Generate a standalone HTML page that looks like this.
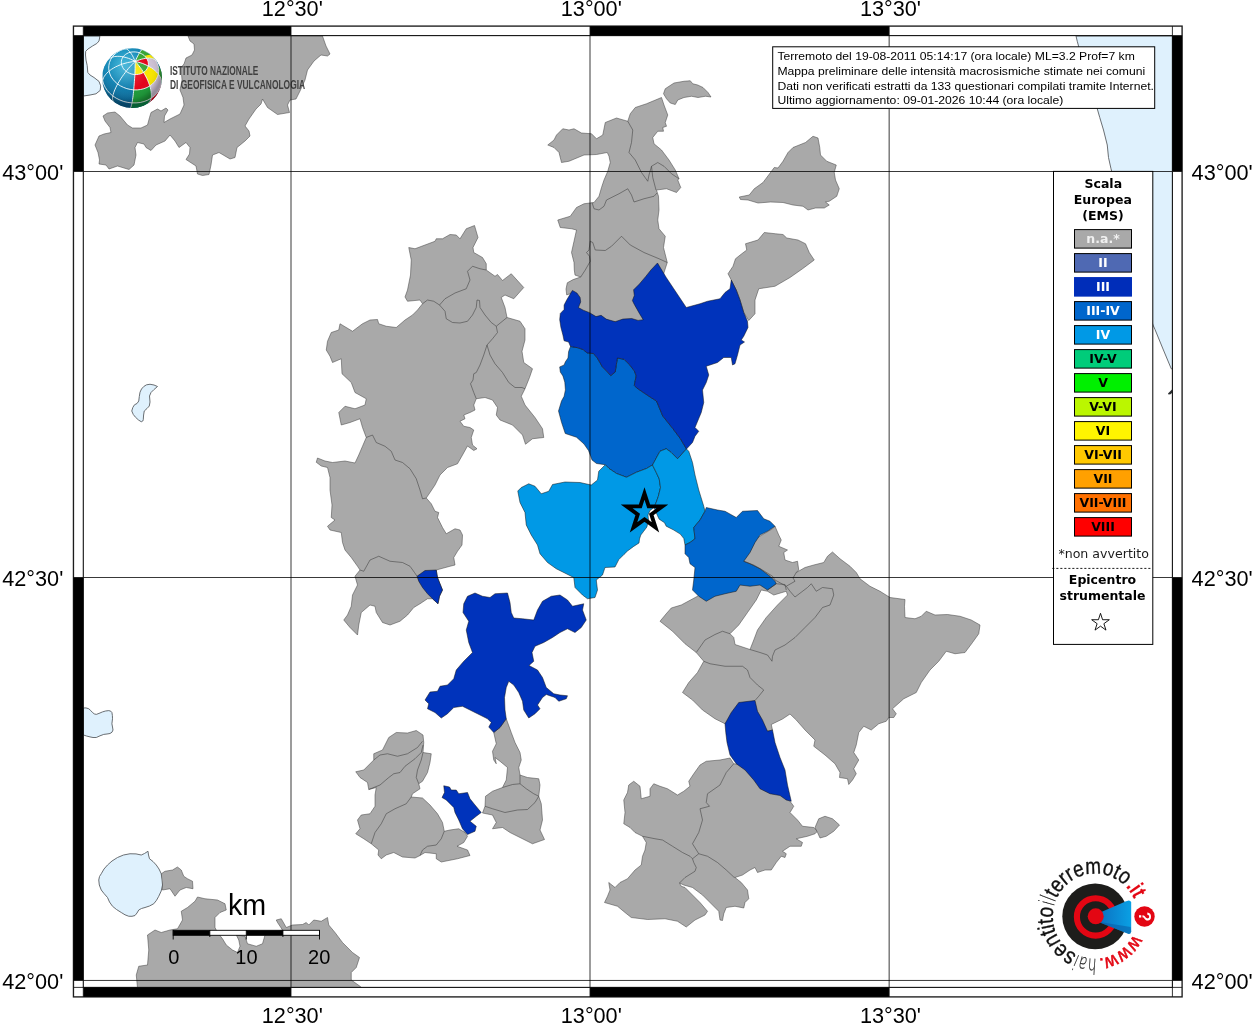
<!DOCTYPE html>
<html lang="it"><head><meta charset="utf-8"><title>Mappa intensità macrosismiche</title>
<style>html,body{margin:0;padding:0;background:#fff}svg{display:block}text{font-family:"Liberation Sans",sans-serif}.dj{font-family:"DejaVu Sans","Liberation Sans",sans-serif}.ga{filter:grayscale(1)}.gb{filter:saturate(1)}</style></head><body>
<svg width="1255" height="1024" viewBox="0 0 1255 1024">
<defs>
<clipPath id="mapclip"><rect x="83.3" y="35.6" width="1089.1000000000001" height="951.8"/></clipPath>
<clipPath id="globeclip"><circle cx="0" cy="0" r="30"/></clipPath>
<radialGradient id="gblue" cx="-8" cy="-14" r="46" gradientUnits="userSpaceOnUse"><stop offset="0" stop-color="#2fb0d6"/><stop offset="0.45" stop-color="#1585b4"/><stop offset="1" stop-color="#075583"/></radialGradient>
<radialGradient id="gshade" cx="-4" cy="-8" r="34" gradientUnits="userSpaceOnUse"><stop offset="0" stop-color="#fff" stop-opacity="0.18"/><stop offset="0.6" stop-color="#fff" stop-opacity="0"/><stop offset="0.85" stop-color="#000" stop-opacity="0.06"/><stop offset="1" stop-color="#000" stop-opacity="0.28"/></radialGradient>
<linearGradient id="cone" x1="0" y1="0" x2="1" y2="0"><stop offset="0" stop-color="#0b6cbd"/><stop offset="1" stop-color="#0aa0e4"/></linearGradient>
</defs>
<rect width="1255" height="1024" fill="#fff"/>
<g clip-path="url(#mapclip)">
<g fill="#dff1fd" stroke="#5a5f63" stroke-width="0.9" stroke-linejoin="round">
<polygon points="83.5,36 99.8,36 99.6,38 99,41 96.8,43.5 92.5,46 88,49 85.7,51.3 85.5,55 86,60 87.2,65.5 87.8,72.5 90,75 94,77.5 99,81.4 100.7,85.9 100.2,90.4 96,93.8 90,95 83.5,96"/>
<polygon points="157.5,386.5 154,385 150,384.25 146.5,384.8 143.75,386.5 141.5,389 140,392.25 139.3,396.5 138.75,401 137,403.5 134.5,404.75 132.8,407.5 131.75,411 133.3,414.5 135.5,417.25 138.5,420 141.25,421.75 142.8,421 143.25,419.75 143.6,415 144.25,411 147,408.5 149.3,406 150,402 149.5,396 151,392.5 153.75,389.75"/>
<polygon points="83.5,708 86,707.9 88.75,708.75 90.7,710.5 92.5,712.5 94.3,713.9 96.25,714.4 99,713.4 102.5,711.9 105.5,711 108.75,710.6 110.8,711.2 111.9,712.5 112.4,715.5 112.5,718.75 111.9,723.75 112.5,727 113,730 112,732.2 110,733.5 107,734 103.75,734.4 100,735.8 96.25,737.5 93,737.5 90,736.9 86.5,736 83.5,735"/>
<polygon points="98.75,880 99.5,876.5 101.25,873.75 104,869 107.5,865 112,861 117.5,857.5 123.5,855 130,853.75 136,853.9 141.25,855 144.5,853.5 148,851.25 148.5,855 149.5,858.75 153,861.5 156.25,865 159,869 161.25,873.75 162.4,879 162.5,885 161.2,891 158.75,896.25 156.5,900.3 153.75,903.75 149.5,906 145,907.5 141.5,908.5 138.75,910 137,913 135,915.5 132,916.3 128.75,916.25 125,914.8 121.25,912.5 116.5,909.5 112.5,906.25 109.5,902 107.5,897.5 104,893.5 101.25,890 99.3,885"/>
<polygon points="1076,36 1077.25,41.25 1085,70 1097.25,108.75 1099.75,117.5 1103.5,130 1107.25,145 1108.5,157.5 1111,168.75 1120,202 1135,264 1153,325 1155,329.5 1163,349 1171.25,368.75 1173,369 1173,36"/>
</g>
<g fill="#a9a9a9" stroke="#3c3c3c" stroke-width="0.5" stroke-linejoin="round">
<polygon points="188,36 190,41 194,44 194.5,50 192,55 186,58 184,64 181,67.5 182,80 180,90 183,97.5 184,105 180,114 170,119 164,122.5 164.5,116 168,110 166,108 161,111 157.5,109 151,112.5 149.5,117.5 147.5,125 141,128 132.5,128 127.5,125 120,116 115,112 107.5,113 103,116 105,121 110,127.5 111,132.5 104,134 99,136 95,145 98,152.5 99.5,160 99,164 106,165 109,169 117.5,166 129,169.5 134,165 136,155 135,147.5 137.5,142.5 144,144 146,147.5 151,150.5 156,145 165,141 170,135 175,141 179,147.5 186,142.5 190,147.5 189.5,154 186,159.5 196,166 197.5,174 202.5,175.5 209,174.5 211,165 212.5,155 219,152.5 230,159 235,157.5 237,147.5 245,141 250,136 249,131 245,126 249,119 256,109 261,104 262.5,99 267.5,107.5 277.5,114.5 289.5,112.5 287.5,105 290,100 296,99 300,91 305,80 307.5,70 314,61 321,55 327.5,56 330,54 326,46 323,37.5 322.5,36"/>
<polygon points="547.75,145 554,140 556.5,135 562.75,128.75 569,130 574,128.75 581.5,133 591.5,133.75 596.5,138.75 602.75,135 605.25,122.5 616.5,118 627.75,121.25 630.25,113.75 635.25,107.5 646.5,103.75 661.5,97.5 664,105 667.75,115 665.25,122.5 666.5,126.25 662.75,127.5 663.5,131.25 657.75,131.25 652.75,137.5 654,143.75 661.5,150 669,160 675.25,170 679,178.75 677.75,180 680.75,187.5 676.5,192.5 666.5,188.75 656.5,190 658.5,196.25 659,210 657.75,220 659,228.75 665.25,236.25 663.5,247.5 667.25,262.5 660,285 645,322 600,322 580,312 573,300 571.25,292.5 570.5,293.6 566.7,294.9 566,289.1 567.3,282.8 573.1,279.6 580.7,277 575,275.1 574.3,270 574,262.5 571.5,252.5 574,241.25 576.5,230 571.5,228.75 560.25,227.5 557.75,220 570.25,216.25 576.5,207.5 584,203.75 594,202.5 599,196.25 601.5,187.5 604,180 607.75,171.25 610.25,162.5 609,156.25 607.25,152.5 596.5,154.5 584,155 569,161.25 561.5,162.5 559,152.5 554,147.5"/>
<polygon points="663.5,93.75 665.25,88.75 674,83 684,81.25 690.25,80.75 692.75,83.75 697.75,85 703,87.5 708,92.5 711,97 705.5,96.25 698,97.5 691.5,96.25 684,97.5 677.75,100 675.25,104.5 670.25,103 666.5,98.75"/>
<polygon points="739.25,197 749.25,195 754.25,188.75 763,182.5 770.5,172.5 774.25,167.5 778,168 783,161.25 788,152.5 793,147.5 805.5,142.5 813,136.25 818,138 819.75,147.5 820.5,155 826.75,161.25 836.25,165 834.25,172.5 835.5,180 839.25,188.75 836.75,196.25 829.25,201.25 825.5,202 829.25,205 824.25,208 815.5,208 808,210 803,206.25 793,205 783,202.5 770.5,202 758,203 748,200 740.5,199.5"/>
<polygon points="764.25,232.5 775.5,233.75 783,234.5 786.75,238 798,240 805.5,243.75 809.25,252.5 814.25,260 802.5,268.75 790,277.5 775,286.25 758.75,288.75 755,300 755,313.75 748.75,320.5 743.75,312.5 740,300 736.25,290 731.25,280 728,273.75 733,266.25 735.5,258.75 741.75,253.75 746.75,250 745.5,243.75 758,240"/>
<polygon points="408.75,247.5 415,248.75 435,241.25 436.25,238.75 442.5,238.75 450,234.5 456.25,235 460,238.75 466.25,228.75 474.5,225.5 478,237.5 473,247.5 473.75,252.5 482.5,257.5 486.25,263.75 486.25,270 495,276.25 497.5,274.5 502.5,280.5 511.25,273.75 523.75,287.5 513.75,298.75 505,295 501.25,297.5 505,307.5 507,317.5 520,321.25 525,328.75 525,340 522,351.25 523.75,362.5 532.5,368.75 529.5,377.5 525,388.75 521.25,396.25 525,405 535,417.5 542.5,428.75 543.75,437.5 532.5,438.75 525.5,444.25 522.5,435 512.5,425 500,420 496.25,415 497.5,407.5 492.5,400 485,397.5 476.25,398.75 473.75,405 475,410 470,412.5 463.75,415 465,418.75 460,421.25 463.75,426.25 470,427.5 473.75,430 471.25,437.5 472.5,445 477,448.75 473.75,450.5 467.5,446 462.5,455 457.5,463.75 447.5,467.5 440,475 435,485 430,492.5 426.25,498 431.25,503.75 435,511.25 438.75,512.5 437.5,517.5 442.5,527.5 446.25,533.75 455,528.75 460,530 462.5,535 462,545 457.5,551.25 453.75,557.5 455,565 450,566.25 436.25,570 437.5,577.5 440,583.75 442.5,590 439.5,596.25 438,603.75 432.5,598.75 427.5,598.75 420,603.75 413.75,607.5 407.5,615 400,621.25 390,625 382.5,622.5 376.25,612.5 375,606.25 370,605 361.25,612.5 358.75,625 357.5,635 350,627.5 343.75,620 347.5,615 351.25,606.25 352.5,595 357.5,585 355,576.25 360,570 357.5,566.25 351.25,557.5 345,550 342.5,542.5 341.25,532.5 330,530 327.5,526.25 335,520 331.25,517.5 332,505 330,490 330,477.5 327.5,467.5 321.25,466 316.25,462.25 317.5,458 325,461 332.5,462.5 345,461 355,463 358.75,455 362.5,446.25 366.25,437.5 362.5,427.5 360,418.75 350,422.5 341.25,425 338.75,412.5 345,406.25 355,408.75 365,405 366.25,398.75 355,392.5 351.25,382.5 342,373.75 341.25,358.75 332.5,362.5 330,356.25 326.25,350 327.5,341.25 331.25,332.5 338.75,330 340,323.75 352.5,331.25 362.5,323.75 370,320 377.5,319.5 378.75,323.75 386.25,326.25 396.25,327.5 405,320 412.5,315 417.5,310 422.5,303.75 420,300 407.5,301.25 405,297 407.5,290 410.5,275 411.25,260"/>
<polygon points="355.75,771.75 363.75,770 373.75,760 373.75,753.75 382.5,750 388.75,737.5 396.25,732.5 407.5,733 416.25,730.5 423,735 423.75,742.5 423,752.5 431.25,753.75 430,762.5 427.5,772.5 422.5,781.25 418.75,783.75 420,788.75 412.5,793.75 411.25,797 422.5,798 430,805 437.5,813.75 442.5,822.5 444.25,831.25 450,830 458.75,828.75 465,832.5 467.5,836.25 463.75,842.5 457,846.25 467.5,850 470,855.5 457.5,858.75 441.25,862 436.25,858.75 436.25,853.75 425,852.5 420,855.5 415,858 402.5,857 393.75,852.5 386.25,855 381.25,858.75 378,855 378.75,850 371.25,843.75 363.75,838.75 355.75,833.75 360,828.75 357.5,820 361.25,815 370,813.75 375,806.25 375,795 376.25,787.5 368.75,789.5 367.5,782.5 360,777.5"/>
<polygon points="506.25,718.75 511.25,732.5 515,742.5 520,752.5 521.25,760 518.75,767.5 520,775 527.5,777.5 538.75,778.75 540,785 538.75,796.25 541.25,803.75 542.5,820 540,830 544.5,839.5 532.5,843.75 520,837.5 510,832.5 502.5,827.5 492.5,828.75 496.25,822.5 492.5,815 482.5,813 485,806.25 485.5,796.25 492.5,791.25 502.5,787.5 506.25,780 507.5,767.5 500,761.25 495,757.5 496.25,763.75 493.75,760 492.5,751.25 496.25,743.75 493.75,732.5 500,727.5"/>
<polygon points="772.5,528.75 775,526.25 778.75,535 781.25,540 778.75,546.25 787.5,550 783.75,552.5 785,560 792.5,562.5 797.5,561.25 798.75,570 796.25,572.5 805,567.5 813.75,565 823.75,562.5 827.5,556.25 832.5,552 840,558.75 850,566.25 856.25,572.5 860,578.75 870,586.25 880,591.25 890,597.5 905,599.5 904.5,606.25 905,617.5 915,618.75 921.25,616.25 926.25,611.25 935,615 947.5,614.5 960,616.25 971.25,620 980,625 978.75,633.75 972.5,642.5 965,652.5 955,653.75 946.25,651.25 938.75,661.25 930,670 921.25,682.5 916.25,692.5 903.75,698.75 892.5,708.75 896.25,713.75 893.75,717.5 888.75,717.5 886.25,721.25 878.75,723.75 871.25,730 863.75,726.25 858.75,732.5 856.25,745 853.75,752.5 858.75,760 853.75,768.75 856.25,773.75 852.5,780 848.75,784.5 847.5,778.75 839.5,777.5 840,772.5 835,763.75 825,755 813.75,746.25 815,740 805,730 796.25,720 790,714 782.5,719 771.25,724.5 772.5,730 767.5,731.25 755,715 740,712 725,723.75 715,718.75 702.5,710 692.5,700 682.5,692.5 688.75,682.5 697.5,672.5 703.75,661.25 696.25,652.5 685,643.75 672.5,631.25 660,621.25 666,614 671.25,608 681.25,605 697.5,596.25 720,580 745,545"/>
<polygon points="733.75,763.75 730,758 720,760 706.25,761.25 700,765 693.75,773.75 688.75,781.25 690,786.25 683.75,791.25 677.5,795 667.5,788.75 660,786.25 653.75,783.75 650,788.75 650,796.25 641.25,798.75 640,786.25 633.75,781.25 628.75,785 627.5,792.5 623.75,800 625,812.5 623.75,823.75 630,827.5 635,832.5 642.5,836.25 646.25,842.5 645,850 642.5,856.25 641.25,865 635,870 627.5,878.75 620,882.5 615,887.5 608.75,882.5 610,890 607.5,896.25 604.5,902.5 617.5,906.25 625,912.5 631.25,917.5 647.5,919.5 665,918.75 677.5,921.25 686.25,927 695,920 705,915 707.5,911.25 700,902.5 690,892.5 685,887.5 681.25,886.25 679.5,883 683.75,885 692.5,887.5 702.5,895 712.5,905 718.75,911.25 720,920 722.5,920.5 723.75,913.75 726.25,907.5 735,906.25 743.75,908 745,902.5 748.75,898.75 747.5,890 741.25,882.5 735,877.5 742.5,875 750,870 755,867.5 757.5,872.5 765,870 771.25,870 776.25,862.5 781.25,856.25 785,857.5 786.25,853.75 782.5,851.25 790,846.25 801.25,846.25 802.5,842.5 796.25,838.75 807.5,836.25 815,833.75 817.5,831.25 813.75,827.5 802.5,826.25 797.5,820 790,812.5 793.75,806.25 790,801.25 780,790 760,780 745,765"/>
<polygon points="815,827.5 818.75,818.75 825,816.25 832.5,818.75 839.5,825 833.75,831.25 826.25,836.25 820,838 817.5,832.5"/>
<polygon points="161.25,873.75 165,871.25 172.5,870 177.5,867 181.25,870 183.75,876.25 187.5,878.75 192.5,881.25 193,888.75 186.25,887.5 180,890 175,896.25 170,888.75 162.5,890 162.5,885"/>
<polygon points="137.5,988 136.25,975 138.75,966.25 147.5,965 148.75,950 147.5,935 155,930 161.25,932.5 170,930 177.5,928.75 182.5,920 181.25,911.25 187.5,907.5 195,901.25 197.5,897 205,898.75 217.5,900 225,903.75 226.25,910 220,912.5 215,917.5 215,927.5 217.5,932.5 222.5,938.75 226.25,945 232.5,950 237.5,952.5 240,946.25 238.75,940 236.25,935 245,936.25 247.5,943.75 256.25,946.25 262.5,943.75 265,935 270,932.5 282.5,930 277.5,922.5 276.25,920 281.25,918.75 286.25,927.5 292.5,925 302.5,924.5 306.25,922.5 308.75,925 313.75,920 321.25,921.25 327.5,917.5 328.75,925 335,932.5 342.5,942.5 352.5,952.5 359.5,957.5 356.25,967.5 351.25,972.5 351.25,980 360,986.25 362,988"/>
</g>
<polygon points="1172,389.5 1170,391.5 1168,393.5 1168.5,394.5 1170.5,394.2 1172,393" fill="#2a2d30"/>
<polygon points="761.25,590 767.5,591.25 773.75,595 786.25,591.25 787.5,595 777.5,605 766.25,617.5 757.5,630 753.75,640 750,649.5 735,644.5 733.75,637.5 730,633.75 738.75,625 747.5,612.5 756.25,600" fill="#fff" stroke="#3c3c3c" stroke-width="0.5"/>
<g stroke="#101010" stroke-width="0.5" stroke-linejoin="round">
<polygon points="570.5,346.5 578.2,347.8 583.3,349.7 587.1,352.9 593.5,353.5 597.3,358 602.4,366.9 607.5,372 610.7,375.6 615.2,372 616.4,364.4 617.4,358 624.1,359.3 629.2,364.4 634.3,370.8 636.2,375.9 634.9,382.2 634.3,385.4 636.8,388 643.2,392.4 650.9,397.5 656.5,401 662.75,416 672.75,428.5 680.25,438.5 686.5,449 677.5,458.75 671.25,452.5 666.25,448.75 660,451.25 652.5,465 646.5,468.5 636.5,472.25 626.5,477.25 616.5,473.5 609,468.5 605.25,464.75 596.5,463.5 592,460 590.8,456.5 588.5,450.5 584,444 576.5,437.25 565.25,433.5 561.5,422.25 558.5,411 561.5,401 564.1,396.3 565.4,389.9 564.8,382.2 562.9,375.9 560.3,372 559.7,366.9 564.1,365 565.4,361.8 568,358 568.6,351.6" fill="#0066cc"/>
<polygon points="517.75,491 521.25,487.5 528.75,483.75 535,486.25 541.25,493.75 548.75,491.25 552.5,484.5 565,482 580,482.5 591.25,485 597.5,480 598.75,471.25 605.25,464.75 609,468.5 616.5,473.5 626.5,477.25 636.5,472.25 646.5,468.5 652.5,465 656.25,472.5 659.2,478.8 660.5,487.6 658.3,496.4 656.3,502 654,507.5 650,510.5 648,515 648.5,520 646.9,527 643.5,531.5 640.8,535 639.5,539 639,543 633.7,546.4 627.5,551 624,554.4 618.8,559.6 615,567 605,567.5 602.5,575 596.25,580 597.5,590 595,597.5 587.5,598.75 582.5,595 575,587.5 573.75,577.5 566.25,573.75 556.25,568.75 547.5,562.5 540,553.75 537.5,545 531.25,535 526.25,525 525,512.5 520,502.5" fill="#0099e6"/>
<polygon points="652.5,465 660,451.25 666.25,448.75 671.25,452.5 677.5,458.75 686.5,449 688.75,451.25 692.5,462.5 695,475 698.75,490 703.75,506.25 705,511.25 700,520 693.75,527.5 695,538.75 690,542.5 685,545 683.8,538.5 680.3,534.1 673.3,529.8 666.2,526.2 664.5,522.7 659.2,519.2 657.5,515.7 655.5,511 654,507.5 656.3,502 658.3,496.4 660.5,487.6 659.2,478.8 656.25,472.5" fill="#0099e6"/>
<polygon points="705,511.25 706.25,507.5 717.5,510 725,511.25 736.25,517.5 742.5,511.25 757.5,510.5 763.75,518.75 770,521.25 775,526.25 767.5,531.25 760,535 755,542.5 750,552.5 743.75,561.25 750,563.75 760,568.75 770,576.25 775,581.25 776.25,583.75 767.5,590 760,585 750,586.25 740,585 736.25,591.25 725,593.75 715,596.25 706.25,601.25 698.75,596.25 692.5,590 693.75,580 695,567.5 690,563.75 688.75,557.5 685,553.75 685,545 690,542.5 695,538.75 693.75,527.5 700,520" fill="#0066cc"/>
<polygon points="572.4,290.4 576.9,293 580.1,297.4 580.7,301.9 578.4,307.6 583.3,310.2 589.6,312.7 596,316.6 601.1,315.3 606.2,319.1 615.2,321.7 622.8,319.1 631.7,318.5 638.1,320.4 643.2,319.7 639.4,313.4 634.3,304.4 632.4,300.6 634.3,295.5 633.6,289.8 639.4,284 645.8,276.4 650.9,270 657.5,263 666.25,277.5 673.75,288.75 681.25,300 686.25,307.5 700,303.75 707.5,301.25 720,298.75 725,292.5 730,288.75 731.25,280 736.25,290 740,300 743.75,312.5 747.5,321.25 748,327.5 743.75,336.25 741.25,340 744.5,342 740,345 737.5,355 735,363.75 732.5,365 731.25,357.5 723.75,357.5 717.5,362.5 706.25,366.25 708.75,375 706.25,382.5 702.5,390 703.75,402.5 701.25,412.5 695,427.5 698.75,431.25 695,436.25 692.5,442.5 686.5,449 680.25,438.5 672.75,428.5 662.75,416 656.5,401 650.9,397.5 643.2,392.4 636.8,388 634.3,385.4 634.9,382.2 636.2,375.9 634.3,370.8 629.2,364.4 624.1,359.3 617.4,358 616.4,364.4 615.2,372 610.7,375.6 607.5,372 602.4,366.9 597.3,358 593.5,353.5 587.1,352.9 583.3,349.7 578.2,347.8 570.5,346.5 568.6,342 564.1,340.8 562.9,335 560.9,327.4 559.7,319.7 560.3,313.4 564.1,309.5 564.1,305 566.7,300 570.5,293.6" fill="#0033bb"/>
<polygon points="417,576.25 425,570.5 436.25,570 437.5,577.5 440,583.75 442.5,590 439.5,596.25 438,603.75 432.5,598.75 427.5,593.75 422.5,587.5 418.75,581.25" fill="#0033bb"/>
<polygon points="463.75,603.75 467.5,596.25 475,593 482.5,596.25 490,597.5 495,593.75 507.5,593 510,602.5 511.25,612.5 513.75,618 522.5,618.75 533.75,620 537.5,610 542.5,601.25 551.25,596.25 560,595 567.5,600 572.5,606.25 583.75,603.75 582.5,610 586.25,620 581.25,627.5 575,632.5 567.5,628.75 560,632.5 552.5,637.5 543.75,642.5 535,646.25 532,652.5 533.75,661.25 529,665.5 537.5,670 542.5,677.5 546.25,687.5 553.75,693.75 560,695 567.5,695.75 566.25,698.75 558.75,701.25 555,697.5 546.25,694.5 542.5,697.5 537.5,705 540,708.75 535,713.75 528.75,718 523.75,710 522.5,701.25 518.75,692.5 513.75,685 508.75,681.25 506.25,687.5 504.5,697.5 505,710 506.25,718.75 500,727.5 493.75,732.5 488.75,727 491.25,722.5 487.5,718.75 477.5,713.75 470,710 462.5,706.25 453.75,707.5 447.5,713.75 441.25,718 435,712.5 427.5,708.75 428.75,703.75 425,700 430,692 437.5,691.25 440,686.25 447.5,685 453.75,678.75 456.25,670 463.75,661.25 472.5,652.5 468.75,642.5 466.25,630 468.75,621.25 463,612.5" fill="#0033bb"/>
<polygon points="443.75,785.75 449.5,787 451.25,790 456.25,790 458.75,793.75 467.5,792.5 470,798.75 475,805 481.25,812.5 476.25,816.25 470,821.25 476.25,826.25 475,831.25 467.5,834.5 462.5,828.75 458.75,820 455,812.5 453.75,807.5 446.25,800 442,797.5 444.5,792.5" fill="#0033bb"/>
<polygon points="738.75,702.5 755,700.5 757.5,711.25 762.5,720 767.5,731.25 772.5,730 775,742.5 780,757.5 785,770 787.5,785 791.25,801.25 786.25,800 780,795.5 770,793.75 760,788.75 753.75,780 745,770 736.25,763.75 730,755 727,742.5 725.75,732.5 725,723.75 731.25,712.5" fill="#0033bb"/>
</g>
<g fill="none" stroke="#3c3c3c" stroke-width="0.55" stroke-linejoin="round">
<polyline points="627.75,121.25 632.75,130 631.5,142.5 629,152.5 635.25,160 641.5,172.5 647.75,181.25 649,175 651.5,166.25"/>
<polyline points="651.5,166.25 657.75,162.5 664,166.25 671.5,173.75 679,178.75"/>
<polyline points="651.5,166.25 652.75,177.5 656,190"/>
<polyline points="592,202.5 594,208.75 599,210 604,206.25 606.5,200 619,193.75 627.75,188.75 631.5,195 634,202 644,198.75 654,196.25 657,193"/>
<polyline points="590.25,241.25 592.75,242.5 595.25,250 605.25,250.5 611.5,246.25 621.5,236.25 630.25,245 644,252.5 659,258.75 667.25,262.5"/>
<polyline points="590.25,241.25 589,250 586.5,252.5 589.5,256.25 590.25,261.25 585.25,270 580.7,277"/>
<polyline points="486.25,270 480,268.75 472.5,266.25 467.5,271.25 470,280 466.25,288.75 455,293 445,298.75 439.5,305 433.75,301.25 427.5,300 422.5,303.75"/>
<polyline points="439.5,305 445,311.25 446.25,318.75 452.5,322.5 460,323 467.5,321.25 472.5,315 476.25,307.5 477,300 479.5,300.5 480,307.5 485,315 491.25,322.5 496.25,326.25 507,317.5"/>
<polyline points="496.25,326.25 497.5,332.5 492.5,338.75 487,345 490,355 495,363.75 502.5,372.5 508.75,382.5 515,387.5 522,387.5 525,388.75"/>
<polyline points="487,345 483.75,355 480,365 476.25,372.5 473.75,373.75 473,380 470.5,383.75 473.75,392.5 476.25,398.75"/>
<polyline points="366.25,437.5 372.5,435 376.25,442.5 385,446.25 391.25,451.25 395,460 402.5,462.5 410,468.75 416.25,478.75 420,490 422.5,498.75 426.25,498"/>
<polyline points="360,570 363.75,571.25 370,560 378.75,556.25 390,561.25 402.5,562.5 410,566.25 414.5,572.5 417,576.25"/>
<polyline points="373.75,760 380,755 387.5,753.75 397.5,756.25 407.5,753.75 417.5,747.5 422.5,741.25"/>
<polyline points="368.75,789.5 380,785 388.75,777.5 393.75,773.75 400,772.5 405,766.25 415,758.75 421.25,752.5 423,745"/>
<polyline points="423,752.5 421.25,760 417.5,770 416.25,777.5 418.75,783.75"/>
<polyline points="411.25,797 406.25,803.75 395,808.75 386.25,813.75 381.25,823.75 375,832.5 371.25,843.75"/>
<polyline points="444.25,831.25 441.25,838.75 436.25,845 427.5,846.25 422.5,850 420,855.5"/>
<polyline points="502.5,787.5 512.5,784.5 520,783.75 526.25,788.75 533.75,793.75 538.75,796.25"/>
<polyline points="485,806.25 492.5,808.75 505,812.5 517.5,810 527.5,809.5 535,802.5 538.75,796.25"/>
<polyline points="520,775 520,783.75"/>
<polyline points="743.75,561.25 753.75,565 762.5,570 772.5,576.25 775,580 786.25,586.25 795,581.25 793,578 796.25,572.5"/>
<polyline points="786.25,586.25 790,591.25 795,597 807.5,587.5 811.25,583.75 816.25,591.25 822.5,587.5 832.5,588.75 833.75,595 830,605 822.5,607.5 815,617.5 805,627.5 795,637.5 785,645 775,650 772.5,656.25 772,661.25 767.5,655 760,652.5 750,649.5"/>
<polyline points="696.25,652.5 705,640 715,634.5 722.5,631.25 730,633.75"/>
<polyline points="703.75,661.25 710,663.75 725,666.25 742.5,666.25 747.5,670 750,677.5 757.5,685 763.75,690 758.75,696.25 755,700.5"/>
<polyline points="767.5,590 776.25,583.75 785,584.5 786.25,590"/>
<polyline points="733.75,763.75 726.25,772.5 720,785 707.5,793.75 706.25,802.5 709.5,806.25 700,808.75 702.5,820 698.75,832.5 692.5,843.75 698.75,853.75"/>
<polyline points="642.5,836.25 655,838.75 662.5,840 672.5,846.25 682.5,852.5 690,856.25 692.5,858.75 698.75,853.75"/>
<polyline points="698.75,853.75 707.5,856.25 717.5,862.5 726.25,870 733.75,877 735,877.5"/>
<polyline points="692.5,858.75 693.75,862.5 696.25,867.5 695,871.25 685,877.5 679.5,883"/>
</g>
</g>
<g transform="translate(132,78)"><g clip-path="url(#globeclip)">
<circle r="30.5" fill="url(#gblue)"/>
<polygon points="3.2,-16.6 3.2,-16.6 3.2,-16.6 3.2,-16.6 3.2,-16.6 3.2,-16.6 3.2,-16.6 3.2,-16.6 3.2,-16.6 3.2,-16.6 3.2,-16.6 3.2,-16.6 4.1,-15.6 5.0,-14.6 5.9,-13.6 6.7,-12.5 7.6,-11.4 8.4,-10.3 9.2,-9.1 10.0,-8.0 10.8,-6.8 11.5,-5.6 11.5,-5.6 10.8,-5.2 10.0,-4.8 9.2,-4.4 8.3,-4.1 7.5,-3.9 6.6,-3.7 5.7,-3.6 4.7,-3.5 3.8,-3.4 2.8,-3.5 2.8,-3.5 2.9,-4.9 3.0,-6.3 3.0,-7.6 3.1,-9.0 3.1,-10.3 3.1,-11.6 3.2,-12.9 3.2,-14.2 3.2,-15.4 3.2,-16.6" fill="#f8e600"/>
<polygon points="2.8,-3.5 3.8,-3.4 4.7,-3.5 5.7,-3.6 6.6,-3.7 7.5,-3.9 8.3,-4.1 9.2,-4.4 10.0,-4.8 10.8,-5.2 11.5,-5.6 11.5,-5.6 12.3,-4.3 13.1,-2.9 13.8,-1.5 14.5,-0.2 15.2,1.2 15.8,2.6 16.4,3.9 16.9,5.3 17.4,6.6 17.8,7.9 17.8,7.9 16.4,8.8 15.0,9.5 13.5,10.1 11.9,10.7 10.3,11.1 8.6,11.5 6.9,11.7 5.2,11.9 3.5,11.9 1.7,11.9 1.7,11.9 1.9,10.4 2.0,8.9 2.1,7.4 2.2,5.9 2.4,4.3 2.5,2.8 2.6,1.2 2.7,-0.3 2.8,-1.9 2.8,-3.5" fill="#e3051b"/>
<polygon points="1.7,11.9 3.5,11.9 5.2,11.9 6.9,11.7 8.6,11.5 10.3,11.1 11.9,10.7 13.5,10.1 15.0,9.5 16.4,8.8 17.8,7.9 17.8,7.9 18.2,9.4 18.6,10.8 18.9,12.1 19.1,13.4 19.3,14.7 19.4,15.9 19.4,17.1 19.4,18.2 19.3,19.3 19.2,20.2 19.2,20.2 17.5,21.2 15.8,22.1 14.0,22.8 12.1,23.5 10.2,24.0 8.2,24.5 6.2,24.8 4.1,24.9 2.1,25.0 -0.0,24.9 -0.0,24.9 0.2,23.9 0.3,22.9 0.5,21.7 0.7,20.5 0.9,19.2 1.1,17.8 1.2,16.4 1.4,14.9 1.6,13.4 1.7,11.9" fill="#1f9a3a"/>
<polygon points="-0.0,24.9 2.1,25.0 4.1,24.9 6.2,24.8 8.2,24.5 10.2,24.0 12.1,23.5 14.0,22.8 15.8,22.1 17.5,21.2 19.2,20.2 19.2,20.2 18.9,21.2 18.6,22.1 18.3,22.9 17.8,23.7 17.3,24.3 16.7,24.8 16.2,25.4 16.0,26.7 15.8,27.9 15.5,29.2 15.5,29.2 13.8,29.6 12.0,29.9 10.3,30.2 8.5,30.4 6.8,30.5 5.1,30.6 3.3,30.6 1.6,30.5 -0.1,30.4 -1.9,30.3 -1.9,30.3 -1.7,29.9 -1.5,29.8 -1.3,29.6 -1.2,29.2 -1.0,28.8 -0.8,28.2 -0.6,27.5 -0.4,26.8 -0.2,25.9 -0.0,24.9" fill="#0a8447"/>
<polygon points="3.2,-16.6 3.2,-16.6 3.2,-16.6 3.2,-16.6 3.2,-16.6 3.2,-16.6 3.2,-16.6 3.2,-16.6 3.2,-16.6 3.2,-16.6 3.2,-16.6 3.2,-16.6 4.6,-16.3 5.9,-16.0 7.3,-15.6 8.6,-15.2 10.0,-14.7 11.3,-14.2 12.5,-13.7 13.8,-13.2 15.0,-12.6 16.2,-12.0 16.2,-12.0 16.0,-11.3 15.7,-10.5 15.4,-9.8 15.0,-9.1 14.6,-8.4 14.1,-7.8 13.5,-7.2 12.9,-6.6 12.2,-6.1 11.5,-5.6 11.5,-5.6 10.8,-6.8 10.0,-8.0 9.2,-9.1 8.4,-10.3 7.6,-11.4 6.7,-12.5 5.9,-13.6 5.0,-14.6 4.1,-15.6 3.2,-16.6" fill="#37a535"/>
<polygon points="11.5,-5.6 12.2,-6.1 12.9,-6.6 13.5,-7.2 14.1,-7.8 14.6,-8.4 15.0,-9.1 15.4,-9.8 15.7,-10.5 16.0,-11.3 16.2,-12.0 16.2,-12.0 17.5,-11.3 18.7,-10.6 19.8,-9.8 21.0,-9.1 22.0,-8.3 23.0,-7.4 24.0,-6.6 24.8,-5.7 25.6,-4.8 26.4,-3.9 26.4,-3.9 26.0,-2.5 25.5,-1.2 24.9,0.2 24.2,1.5 23.4,2.7 22.5,3.9 21.4,5.0 20.3,6.1 19.1,7.0 17.8,7.9 17.8,7.9 17.4,6.6 16.9,5.3 16.4,3.9 15.8,2.6 15.2,1.2 14.5,-0.2 13.8,-1.5 13.1,-2.9 12.3,-4.3 11.5,-5.6" fill="#f8e600"/>
<polygon points="17.8,7.9 19.1,7.0 20.3,6.1 21.4,5.0 22.5,3.9 23.4,2.7 24.2,1.5 24.9,0.2 25.5,-1.2 26.0,-2.5 26.4,-3.9 26.4,-3.9 27.1,-2.9 27.7,-1.9 28.3,-0.9 28.7,0.1 29.1,1.1 29.3,2.1 29.5,3.1 29.5,4.1 29.5,5.1 29.4,6.1 29.4,6.1 28.9,7.8 28.4,9.4 27.7,11.0 26.8,12.5 25.8,14.0 24.7,15.4 23.5,16.8 22.2,18.0 20.7,19.2 19.2,20.2 19.2,20.2 19.3,19.3 19.4,18.2 19.4,17.1 19.4,15.9 19.3,14.7 19.1,13.4 18.9,12.1 18.6,10.8 18.2,9.4 17.8,7.9" fill="#cfc3d6"/>
<polygon points="19.2,20.2 20.7,19.2 22.2,18.0 23.5,16.8 24.7,15.4 25.8,14.0 26.8,12.5 27.7,11.0 28.4,9.4 28.9,7.8 29.4,6.1 29.4,6.1 29.9,7.3 30.5,8.5 31.0,9.9 31.5,11.3 31.9,12.7 32.2,14.2 32.3,15.8 32.4,17.5 32.4,19.2 32.1,21.0 32.1,21.0 30.6,22.2 29.0,23.3 27.4,24.4 25.7,25.3 24.1,26.2 22.4,26.9 20.7,27.6 19.0,28.2 17.2,28.8 15.5,29.2 15.5,29.2 15.8,27.9 16.0,26.7 16.2,25.4 16.7,24.8 17.3,24.3 17.8,23.7 18.3,22.9 18.6,22.1 18.9,21.2 19.2,20.2" fill="#e3051b"/>
<polygon points="3.2,-16.6 3.2,-16.6 3.2,-16.6 3.2,-16.6 3.2,-16.6 3.2,-16.6 3.2,-16.6 3.2,-16.6 3.2,-16.6 3.2,-16.6 3.2,-16.6 3.2,-16.6 4.4,-17.1 5.6,-17.6 6.8,-18.0 8.0,-18.4 9.1,-18.7 10.3,-19.0 11.4,-19.2 12.5,-19.5 13.5,-19.6 14.6,-19.7 14.6,-19.7 15.0,-19.0 15.4,-18.3 15.7,-17.5 16.0,-16.7 16.2,-16.0 16.3,-15.2 16.4,-14.4 16.4,-13.6 16.3,-12.8 16.2,-12.0 16.2,-12.0 15.0,-12.6 13.8,-13.2 12.5,-13.7 11.3,-14.2 10.0,-14.7 8.6,-15.2 7.3,-15.6 5.9,-16.0 4.6,-16.3 3.2,-16.6" fill="#e3051b"/>
<polygon points="16.2,-12.0 16.3,-12.8 16.4,-13.6 16.4,-14.4 16.3,-15.2 16.2,-16.0 16.0,-16.7 15.7,-17.5 15.4,-18.3 15.0,-19.0 14.6,-19.7 14.6,-19.7 15.7,-19.8 16.8,-19.9 17.8,-19.8 18.7,-19.8 19.7,-19.6 20.5,-19.5 21.3,-19.2 22.1,-18.9 22.8,-18.6 23.4,-18.2 23.4,-18.2 24.2,-16.9 24.9,-15.5 25.5,-14.1 26.0,-12.6 26.4,-11.2 26.6,-9.7 26.7,-8.3 26.7,-6.8 26.6,-5.4 26.4,-3.9 26.4,-3.9 25.6,-4.8 24.8,-5.7 24.0,-6.6 23.0,-7.4 22.0,-8.3 21.0,-9.1 19.8,-9.8 18.7,-10.6 17.5,-11.3 16.2,-12.0" fill="#cfc3d6"/>
<polygon points="26.4,-3.9 26.5,-4.7 26.6,-5.5 26.7,-6.3 26.8,-7.1 26.8,-7.9 26.7,-8.7 26.6,-9.5 26.5,-10.3 26.4,-11.1 26.2,-11.9 26.2,-11.9 26.9,-11.2 27.6,-10.5 28.1,-9.7 28.5,-8.8 28.9,-8.0 29.3,-7.2 30.3,-6.5 31.4,-5.7 32.4,-4.8 33.4,-3.9 33.4,-3.9 33.2,-2.8 32.9,-1.7 32.5,-0.6 32.1,0.4 31.7,1.4 31.3,2.4 30.8,3.4 30.3,4.3 29.8,5.2 29.4,6.1 29.4,6.1 29.5,5.1 29.5,4.1 29.5,3.1 29.3,2.1 29.1,1.1 28.7,0.1 28.3,-0.9 27.7,-1.9 27.1,-2.9 26.4,-3.9" fill="#37a535"/>
<polygon points="3.2,-16.6 3.2,-16.6 3.2,-16.6 3.2,-16.6 3.2,-16.6 3.2,-16.6 3.2,-16.6 3.2,-16.6 3.2,-16.6 3.2,-16.6 3.2,-16.6 3.2,-16.6 3.7,-17.7 4.1,-18.7 4.6,-19.6 5.1,-20.6 5.5,-21.5 5.9,-22.3 6.3,-23.1 6.7,-23.8 7.1,-24.5 7.5,-25.1 7.5,-25.1 8.4,-24.8 9.2,-24.4 10.0,-24.0 10.8,-23.5 11.6,-22.9 12.3,-22.4 12.9,-21.8 13.5,-21.1 14.1,-20.4 14.6,-19.7 14.6,-19.7 13.5,-19.6 12.5,-19.5 11.4,-19.2 10.3,-19.0 9.1,-18.7 8.0,-18.4 6.8,-18.0 5.6,-17.6 4.4,-17.1 3.2,-16.6" fill="#37a535"/>
<polygon points="14.6,-19.7 14.1,-20.4 13.5,-21.1 12.9,-21.8 12.3,-22.4 11.6,-22.9 10.8,-23.5 10.0,-24.0 9.2,-24.4 8.4,-24.8 7.5,-25.1 7.5,-25.1 7.9,-25.8 8.2,-26.3 8.6,-26.8 8.9,-27.3 9.2,-27.6 9.5,-27.9 9.7,-28.1 10.0,-28.2 10.1,-28.2 10.4,-28.4 10.4,-28.4 12.0,-27.6 13.5,-26.8 15.0,-26.0 16.5,-25.1 17.8,-24.1 19.1,-23.0 20.3,-21.9 21.5,-20.7 22.5,-19.5 23.4,-18.2 23.4,-18.2 22.8,-18.6 22.1,-18.9 21.3,-19.2 20.5,-19.5 19.7,-19.6 18.7,-19.8 17.8,-19.8 16.8,-19.9 15.7,-19.8 14.6,-19.7" fill="#37a535"/>
<polygon points="14.6,-19.7 14.4,-20.0 14.2,-20.2 14.1,-20.5 13.9,-20.7 13.7,-21.0 13.5,-21.2 13.3,-21.4 13.0,-21.6 12.8,-21.9 12.6,-22.1 12.6,-22.1 13.5,-22.4 14.4,-22.6 15.2,-22.8 16.0,-23.0 16.7,-23.1 17.4,-23.1 18.1,-23.0 18.7,-22.9 19.2,-22.7 19.7,-22.5 19.7,-22.5 20.2,-22.1 20.6,-21.7 21.0,-21.3 21.4,-20.8 21.7,-20.4 22.1,-20.0 22.4,-19.5 22.8,-19.1 23.1,-18.6 23.4,-18.2 23.4,-18.2 22.8,-18.6 22.1,-18.9 21.3,-19.2 20.5,-19.5 19.7,-19.6 18.7,-19.8 17.8,-19.8 16.8,-19.9 15.7,-19.8 14.6,-19.7" fill="#f8e600"/>
<g fill="none" stroke="#fff" stroke-width="0.95" stroke-opacity="0.92">
<polyline points="3.2,-16.6 3.2,-14.4 3.1,-12.0 3.1,-9.6 3.0,-7.1 2.9,-4.5 2.8,-1.9 2.6,0.7 2.4,3.3 2.2,5.9 2.0,8.4 1.8,10.9 1.6,13.3 1.3,15.6 1.1,17.7 0.8,19.8 0.5,21.7 0.3,23.4 -0.0,24.9 -0.3,26.3 -0.6,27.4 -0.8,28.4 -1.1,29.1 -1.4,29.6 -1.6,29.9 -1.9,30.3 -2.2,31.8"/>
<polyline points="3.2,-16.6 4.9,-14.8 6.5,-12.8 8.0,-10.8 9.6,-8.7 11.0,-6.5 12.3,-4.3 13.6,-2.0 14.8,0.3 15.8,2.6 16.7,4.8 17.5,7.1 18.2,9.2 18.7,11.3 19.1,13.3 19.3,15.3 19.4,17.1 19.4,18.7 19.2,20.2 18.8,21.6 18.3,22.8 17.7,23.9 16.9,24.7 16.2,25.6 15.9,27.4 15.5,29.2 15.0,31.0"/>
<polyline points="3.2,-16.6 5.7,-16.0 8.2,-15.3 10.7,-14.5 13.0,-13.5 15.3,-12.5 17.5,-11.3 19.5,-10.1 21.3,-8.8 23.0,-7.4 24.6,-6.0 25.9,-4.5 27.0,-3.0 28.0,-1.5 28.7,0.0 29.2,1.6 29.5,3.1 29.5,4.6 29.4,6.1 30.1,7.8 30.9,9.7 31.6,11.7 32.1,13.8 32.4,16.1 32.4,18.5 32.1,21.0 31.5,23.7"/>
<polyline points="3.2,-16.6 5.4,-17.5 7.6,-18.2 9.8,-18.9 11.8,-19.3 13.8,-19.7 15.7,-19.8 17.4,-19.9 19.1,-19.7 20.5,-19.5 21.8,-19.0 23.0,-18.5 24.0,-17.7 24.8,-16.9 26.2,-16.4 28.0,-16.1 29.9,-15.6 31.7,-15.0 33.5,-14.1 35.3,-13.1 37.1,-11.7 38.7,-10.0 40.3,-7.9 41.7,-5.4 42.9,-2.4 43.7,1.3 44.1,5.7"/>
<polyline points="3.2,-16.6 4.1,-18.5 4.9,-20.3 5.7,-21.9 6.5,-23.4 7.2,-24.7 7.9,-25.8 8.5,-26.7 9.0,-27.4 9.5,-27.9 9.9,-28.1 10.2,-28.2 10.9,-29.2 11.7,-30.6 12.6,-31.9 13.5,-33.1 14.4,-34.3 15.3,-35.4 16.3,-36.5 17.4,-37.4 18.5,-38.1 19.7,-38.7 21.1,-39.1 22.7,-39.2 24.6,-38.9 27.1,-38.0 30.5,-36.0"/>
<polyline points="3.2,-16.6 2.3,-18.6 1.4,-20.5 0.5,-22.3 -0.5,-23.8 -1.4,-25.2 -2.3,-26.4 -3.2,-27.4 -4.1,-28.2 -4.9,-28.7 -5.7,-29.1 -6.5,-29.2 -7.3,-29.4 -8.4,-30.6 -9.6,-31.8 -10.8,-33.0 -12.2,-34.1 -13.6,-35.0 -15.2,-35.8 -16.9,-36.4 -18.8,-36.8 -20.8,-37.0 -23.2,-36.7 -25.8,-36.0 -28.9,-34.7 -32.4,-32.4 -36.5,-28.6"/>
<polyline points="3.2,-16.6 0.9,-17.8 -1.3,-18.8 -3.6,-19.7 -5.8,-20.4 -8.0,-21.0 -10.1,-21.4 -12.2,-21.6 -14.2,-21.7 -16.0,-21.6 -17.7,-21.4 -19.3,-21.0 -20.8,-20.4 -22.1,-19.7 -23.2,-18.8 -24.1,-17.8 -25.7,-17.3 -27.7,-16.7 -29.6,-16.0 -31.5,-15.1 -33.3,-14.0 -35.2,-12.6 -36.9,-10.9 -38.6,-8.9 -40.1,-6.4 -41.4,-3.5 -42.3,-0.1"/>
<polyline points="3.2,-16.6 0.6,-16.3 -2.0,-15.9 -4.5,-15.4 -7.0,-14.7 -9.5,-14.0 -11.9,-13.1 -14.2,-12.1 -16.4,-11.1 -18.5,-9.9 -20.5,-8.7 -22.2,-7.4 -23.8,-6.1 -25.3,-4.7 -26.5,-3.3 -27.6,-1.8 -28.4,-0.4 -29.0,1.1 -29.4,2.6 -29.5,4.0 -29.5,5.4 -29.9,6.9 -30.8,8.7 -31.6,10.5 -32.2,12.5 -32.7,14.7 -32.9,16.9"/>
<polyline points="3.2,-16.6 1.5,-15.0 -0.2,-13.2 -1.9,-11.4 -3.6,-9.5 -5.2,-7.5 -6.8,-5.4 -8.4,-3.3 -9.9,-1.2 -11.3,0.9 -12.6,3.1 -13.9,5.2 -15.0,7.2 -16.0,9.2 -16.9,11.2 -17.7,13.0 -18.3,14.8 -18.8,16.4 -19.2,17.9 -19.4,19.3 -19.5,20.6 -19.4,21.6 -19.1,22.5 -18.7,23.3 -18.2,23.8 -18.4,25.4 -18.6,27.1"/>
<polyline points="2.8,-3.5 4.7,-3.5 6.6,-3.7 8.3,-4.1 10.0,-4.8 11.5,-5.6 12.9,-6.6 14.1,-7.8 15.0,-9.1 15.7,-10.5 16.2,-12.0 16.4,-13.6 16.3,-15.2 16.0,-16.7 15.4,-18.3 14.6,-19.7 13.5,-21.1 12.3,-22.4 10.8,-23.5 9.2,-24.4 7.5,-25.1 5.7,-25.7 3.8,-26.0 1.9,-26.1 0.0,-26.0 -1.8,-25.7 -3.5,-25.2 -5.1,-24.4 -6.6,-23.5 -7.8,-22.4 -8.9,-21.2 -9.7,-19.8 -10.3,-18.3 -10.6,-16.8 -10.7,-15.2 -10.5,-13.6 -10.0,-12.1 -9.3,-10.6 -8.4,-9.1 -7.2,-7.8 -5.9,-6.6 -4.3,-5.6 -2.7,-4.8 -0.9,-4.1 1.0,-3.7 2.8,-3.5"/>
<polyline points="1.7,11.9 5.2,11.9 8.6,11.5 11.9,10.7 15.0,9.5 17.8,7.9 20.3,6.1 22.5,3.9 24.2,1.5 25.5,-1.2 26.4,-3.9 26.7,-6.8 26.6,-9.7 26.0,-12.6 24.9,-15.5 23.4,-18.2 21.5,-20.7 19.1,-23.0 16.5,-25.1 13.5,-26.8 10.4,-28.4 7.0,-29.6 3.5,-30.2 0.0,-30.2 -3.4,-29.8 -6.8,-29.2 -10.0,-28.2 -13.0,-26.8 -15.6,-25.1 -18.0,-23.1 -19.9,-20.8 -21.4,-18.3 -22.5,-15.6 -23.1,-12.7 -23.3,-9.8 -22.9,-6.9 -22.1,-4.0 -20.8,-1.2 -19.0,1.4 -16.9,3.8 -14.4,6.0 -11.5,7.9 -8.4,9.4 -5.2,10.6 -1.8,11.4 1.7,11.9"/>
<polyline points="-0.0,24.9 4.1,24.9 8.2,24.5 12.1,23.5 15.8,22.1 19.2,20.2 22.2,18.0 24.7,15.4 26.8,12.5 28.4,9.4 29.4,6.1 31.1,2.8 32.6,-0.9 33.6,-5.0 33.9,-9.4 33.5,-14.1 32.2,-19.1 29.8,-24.0 26.4,-28.8 21.9,-33.0 16.3,-36.5 10.1,-38.8 3.4,-40.0 -3.3,-39.7 -9.6,-38.3 -15.2,-35.8 -19.9,-32.5 -23.7,-28.7 -26.5,-24.5 -28.4,-20.3 -29.6,-16.0 -30.0,-11.9 -29.8,-8.0 -29.7,-4.4 -29.8,-0.9 -29.4,2.6 -28.4,6.0 -26.8,9.3 -24.7,12.5 -22.2,15.3 -19.2,17.9 -15.8,20.2 -12.1,22.0 -8.2,23.5 -4.2,24.4 -0.0,24.9"/>
</g>
<circle r="30.5" fill="url(#gshade)"/>
</g></g>
<g class="ga" fill="#404040" font-weight="bold" font-size="13.4">
<text transform="translate(170,74.9) scale(0.62,1)" >ISTITUTO NAZIONALE</text>
<text transform="translate(170,89.3) scale(0.628,1)" >DI GEOFISICA E VULCANOLOGIA</text>
</g>
<g stroke="#000" stroke-width="0.78" fill="none">
<line x1="291.0" y1="35.6" x2="291.0" y2="987.4"/>
<line x1="590.0" y1="35.6" x2="590.0" y2="987.4"/>
<line x1="889.15" y1="35.6" x2="889.15" y2="987.4"/>
<line x1="83.3" y1="171.5" x2="1172.4" y2="171.5"/>
<line x1="83.3" y1="577.5" x2="1172.4" y2="577.5"/>
<line x1="83.3" y1="980.45" x2="1172.4" y2="980.45"/>
</g>
<polygon points="644.5,493.5 648.7,506.42 662.28,506.42 651.29,514.41 655.49,527.33 644.5,519.34 633.51,527.33 637.71,514.41 626.72,506.42 640.3,506.42" fill="none" stroke="#000" stroke-width="3.9" stroke-miterlimit="10"/>
<g>
<rect x="173.2" y="930.3" width="146.3" height="5" fill="#fff" stroke="#000" stroke-width="0.9"/>
<rect x="173.2" y="930.3" width="36.575" height="5" fill="#000"/>
<rect x="246.35" y="930.3" width="36.575" height="5" fill="#000"/>
<line x1="173.2" y1="930" x2="173.2" y2="939.5" stroke="#000" stroke-width="0.9"/>
<line x1="209.8" y1="930" x2="209.8" y2="937" stroke="#000" stroke-width="0.9"/>
<line x1="246.3" y1="930" x2="246.3" y2="939.5" stroke="#000" stroke-width="0.9"/>
<line x1="282.9" y1="930" x2="282.9" y2="937" stroke="#000" stroke-width="0.9"/>
<line x1="319.5" y1="930" x2="319.5" y2="939.5" stroke="#000" stroke-width="0.9"/>
</g>
<g class="ga">
<text x="247" y="914.8" font-size="28.7" text-anchor="middle">km</text>
<text x="173.8" y="963.5" font-size="20" text-anchor="middle">0</text>
<text x="246.4" y="963.5" font-size="20" text-anchor="middle">10</text>
<text x="319.2" y="963.5" font-size="20" text-anchor="middle">20</text>
</g>
<rect x="1053.5" y="171.4" width="99.3" height="473" fill="#fff" stroke="#000" stroke-width="1"/>
<rect x="1074.5" y="229.60" width="57" height="18.5" fill="#a9a9a9" stroke="#000" stroke-width="1"/>
<rect x="1074.5" y="253.60" width="57" height="18.5" fill="#4f69b3" stroke="#000" stroke-width="1"/>
<rect x="1074.5" y="277.60" width="57" height="18.5" fill="#002db9" stroke="#002db9" stroke-width="1"/>
<rect x="1074.5" y="301.60" width="57" height="18.5" fill="#0066cc" stroke="#000" stroke-width="1"/>
<rect x="1074.5" y="325.60" width="57" height="18.5" fill="#0099e6" stroke="#000" stroke-width="1"/>
<rect x="1074.5" y="349.60" width="57" height="18.5" fill="#00cc7a" stroke="#000" stroke-width="1"/>
<rect x="1074.5" y="373.60" width="57" height="18.5" fill="#00f000" stroke="#000" stroke-width="1"/>
<rect x="1074.5" y="397.60" width="57" height="18.5" fill="#bbf600" stroke="#000" stroke-width="1"/>
<rect x="1074.5" y="421.60" width="57" height="18.5" fill="#fff500" stroke="#000" stroke-width="1"/>
<rect x="1074.5" y="445.60" width="57" height="18.5" fill="#ffc800" stroke="#000" stroke-width="1"/>
<rect x="1074.5" y="469.60" width="57" height="18.5" fill="#ffa000" stroke="#000" stroke-width="1"/>
<rect x="1074.5" y="493.60" width="57" height="18.5" fill="#ff7000" stroke="#000" stroke-width="1"/>
<rect x="1074.5" y="517.60" width="57" height="18.5" fill="#ff0000" stroke="#000" stroke-width="1"/>
<g class="dj ga" font-weight="bold" font-size="12.5" text-anchor="middle" fill="#000">
<text class="dj" x="1103.3" y="187.9">Scala</text>
<text class="dj" x="1102.8" y="203.8">Europea</text>
<text class="dj" x="1103" y="219.9">(EMS)</text>
<text class="dj" x="1103" y="243.20" fill="#f0f0f0">n.a.*</text>
<text class="dj" x="1103" y="267.20" fill="#fff">II</text>
<text class="dj" x="1103" y="291.20" fill="#fff">III</text>
<text class="dj" x="1103" y="315.20" fill="#fff">III-IV</text>
<text class="dj" x="1103" y="339.20" fill="#fff">IV</text>
<text class="dj" x="1103" y="363.20" fill="#000">IV-V</text>
<text class="dj" x="1103" y="387.20" fill="#000">V</text>
<text class="dj" x="1103" y="411.20" fill="#000">V-VI</text>
<text class="dj" x="1103" y="435.20" fill="#000">VI</text>
<text class="dj" x="1103" y="459.20" fill="#000">VI-VII</text>
<text class="dj" x="1103" y="483.20" fill="#000">VII</text>
<text class="dj" x="1103" y="507.20" fill="#000">VII-VIII</text>
<text class="dj" x="1103" y="531.20" fill="#000">VIII</text>
<text class="dj" x="1102.5" y="583.6">Epicentro</text>
<text class="dj" x="1102.5" y="599.7">strumentale</text>
<text class="dj" x="1103.7" y="557.6" font-size="12.6" font-weight="normal" fill="#1c1c1c">*non avvertito</text>
</g>
<line x1="1052.3" y1="568.4" x2="1150.5" y2="568.4" stroke="#000" stroke-width="0.9" stroke-dasharray="2.1,1.9"/>
<polygon points="1100.5,613.3 1102.59,619.73 1109.34,619.73 1103.88,623.7 1105.97,630.12 1100.5,626.15 1095.03,630.12 1097.12,623.7 1091.66,619.73 1098.41,619.73" fill="#fff" stroke="#000" stroke-width="0.9"/>
<rect x="772.7" y="46.8" width="382" height="61.6" fill="#fff" stroke="#000" stroke-width="1"/>
<g class="ga" font-size="11.5" fill="#000">
<text transform="translate(777.4,59.60) scale(1.059,1)">Terremoto del 19-08-2011 05:14:17 (ora locale) ML=3.2 Prof=7 km</text>
<text transform="translate(777.4,74.55) scale(1.059,1)">Mappa preliminare delle intensità macrosismiche stimate nei comuni</text>
<text transform="translate(777.4,89.50) scale(1.059,1)">Dati non verificati estratti da 133 questionari compilati tramite Internet.</text>
<text transform="translate(777.4,104.45) scale(1.059,1)">Ultimo aggiornamento: 09-01-2026 10:44 (ora locale)</text>
</g>
<g>
<circle cx="1095.2" cy="916.4000000000001" r="32.9" fill="#1d1d1b"/>
<circle cx="1095.6" cy="916.9" r="18.7" fill="none" stroke="#e30613" stroke-width="6.1"/>
<polygon points="1096,914.2 1126.2,901.2 1128.6,900.4 1130.4,900.9 1131.2,902.6 1131.2,931.4 1130.4,933.4 1128.8,934 1096,921" fill="url(#cone)"/>
<polygon points="1098,921.8 1130.6,927 1131.2,931.4 1130.4,933.4 1128.8,934" fill="#0a56a0" fill-opacity="0.5"/>
<circle cx="1095.7" cy="916.3" r="8" fill="#e30613"/>
<circle cx="1144.5" cy="916.5" r="10.2" fill="#e30613"/>
<text class="ga" transform="translate(1144.2,916.6) rotate(90)" x="0" y="5.6" font-size="16" font-weight="bold" fill="#fff" text-anchor="middle">?</text>
<path id="w1" d="M1133.56,934.50 A42.5,42.5 0 0 1 1098.90,958.54" fill="none"/>
<text class="gb" style="font-family:'Liberation Sans',sans-serif" font-size="19.5" font-weight="normal" font-style="normal" fill="#e30613" stroke="#e30613" stroke-width="0.55" textLength="44.1" lengthAdjust="spacingAndGlyphs"><textPath href="#w1" textLength="44.1" lengthAdjust="spacingAndGlyphs">www.</textPath></text>
<path id="w2" d="M1096.68,958.67 A42.5,42.5 0 0 1 1076.90,954.56" fill="none"/>
<text class="gb" style="font-family:'DejaVu Sans Light','DejaVu Sans',sans-serif" font-size="21" font-weight="200" font-style="normal" fill="#262626" stroke="#262626" stroke-width="0.25" textLength="20.4" lengthAdjust="spacingAndGlyphs"><textPath href="#w2" textLength="20.4" lengthAdjust="spacingAndGlyphs">hai</textPath></text>
<path id="w3" d="M1076.90,954.56 A42.5,42.5 0 0 1 1053.63,907.36" fill="none"/>
<text class="gb" style="font-family:'Liberation Sans',sans-serif" font-size="23" font-weight="normal" font-style="normal" fill="#111" stroke="#111" stroke-width="0.35" textLength="56.7" lengthAdjust="spacingAndGlyphs"><textPath href="#w3" textLength="56.7" lengthAdjust="spacingAndGlyphs">sentito</textPath></text>
<path id="w4" d="M1053.76,906.78 A42.5,42.5 0 0 1 1056.37,898.91" fill="none"/>
<text class="gb" style="font-family:'DejaVu Sans Light','DejaVu Sans',sans-serif" font-size="22" font-weight="200" font-style="normal" fill="#262626" stroke="#262626" stroke-width="0.2" textLength="8.3" lengthAdjust="spacingAndGlyphs"><textPath href="#w4" textLength="8.3" lengthAdjust="spacingAndGlyphs">il</textPath></text>
<path id="w5" d="M1056.53,898.58 A42.5,42.5 0 0 1 1124.46,885.37" fill="none"/>
<text class="gb" style="font-family:'Liberation Sans',sans-serif" font-size="22.5" font-weight="normal" font-style="normal" fill="#111" stroke="#111" stroke-width="0.35" textLength="80.9" lengthAdjust="spacingAndGlyphs"><textPath href="#w5" textLength="80.9" lengthAdjust="spacingAndGlyphs">terremoto</textPath></text>
<path id="w6" d="M1125.77,886.68 A42.5,42.5 0 0 1 1134.03,898.91" fill="none"/>
<text class="gb" style="font-family:'Liberation Sans',sans-serif" font-size="22" font-weight="bold" font-style="normal" fill="#e30613" stroke="#e30613" stroke-width="0.2" textLength="14.8" lengthAdjust="spacingAndGlyphs"><textPath href="#w6" textLength="14.8" lengthAdjust="spacingAndGlyphs">.it</textPath></text>
</g>
<g>
<rect x="73.45" y="26.1" width="1108.6499999999999" height="970.8" fill="none" stroke="#1c1c1c" stroke-width="1.35"/>
<rect x="83.3" y="35.6" width="1089.1000000000001" height="951.8" fill="none" stroke="#111" stroke-width="1.1"/>
<rect x="83.3" y="26.1" width="207.70" height="9.50" fill="#000"/>
<rect x="83.3" y="987.4" width="207.70" height="9.50" fill="#000"/>
<rect x="590.0" y="26.1" width="299.15" height="9.50" fill="#000"/>
<rect x="590.0" y="987.4" width="299.15" height="9.50" fill="#000"/>
<rect x="73.45" y="35.6" width="9.85" height="135.90" fill="#000"/>
<rect x="1172.4" y="35.6" width="9.70" height="135.90" fill="#000"/>
<rect x="73.45" y="577.5" width="9.85" height="402.95" fill="#000"/>
<rect x="1172.4" y="577.5" width="9.70" height="402.95" fill="#000"/>
<g stroke="#111" stroke-width="0.85">
<line x1="83.3" y1="26.1" x2="83.3" y2="35.6"/><line x1="83.3" y1="987.4" x2="83.3" y2="996.9"/>
<line x1="291.0" y1="26.1" x2="291.0" y2="35.6"/><line x1="291.0" y1="987.4" x2="291.0" y2="996.9"/>
<line x1="590.0" y1="26.1" x2="590.0" y2="35.6"/><line x1="590.0" y1="987.4" x2="590.0" y2="996.9"/>
<line x1="889.15" y1="26.1" x2="889.15" y2="35.6"/><line x1="889.15" y1="987.4" x2="889.15" y2="996.9"/>
<line x1="1172.4" y1="26.1" x2="1172.4" y2="35.6"/><line x1="1172.4" y1="987.4" x2="1172.4" y2="996.9"/>
<line x1="73.45" y1="35.6" x2="83.3" y2="35.6"/><line x1="1172.4" y1="35.6" x2="1182.1" y2="35.6"/>
<line x1="73.45" y1="171.5" x2="83.3" y2="171.5"/><line x1="1172.4" y1="171.5" x2="1182.1" y2="171.5"/>
<line x1="73.45" y1="577.5" x2="83.3" y2="577.5"/><line x1="1172.4" y1="577.5" x2="1182.1" y2="577.5"/>
<line x1="73.45" y1="980.45" x2="83.3" y2="980.45"/><line x1="1172.4" y1="980.45" x2="1182.1" y2="980.45"/>
<line x1="73.45" y1="987.4" x2="83.3" y2="987.4"/><line x1="1172.4" y1="987.4" x2="1182.1" y2="987.4"/>
</g>
</g>
<g class="ga" font-size="21.7" fill="#000">
<text x="292.3" y="16.3" text-anchor="middle">12°30'</text>
<text x="292.3" y="1022.8" text-anchor="middle">12°30'</text>
<text x="591.3" y="16.3" text-anchor="middle">13°00'</text>
<text x="591.3" y="1022.8" text-anchor="middle">13°00'</text>
<text x="890.4499999999999" y="16.3" text-anchor="middle">13°30'</text>
<text x="890.4499999999999" y="1022.8" text-anchor="middle">13°30'</text>
<text x="63.3" y="179.7" text-anchor="end">43°00'</text>
<text x="1191.6" y="179.7">43°00'</text>
<text x="63.3" y="585.7" text-anchor="end">42°30'</text>
<text x="1191.6" y="585.7">42°30'</text>
<text x="63.3" y="988.7" text-anchor="end">42°00'</text>
<text x="1191.6" y="988.7">42°00'</text>
</g>
</svg></body></html>
